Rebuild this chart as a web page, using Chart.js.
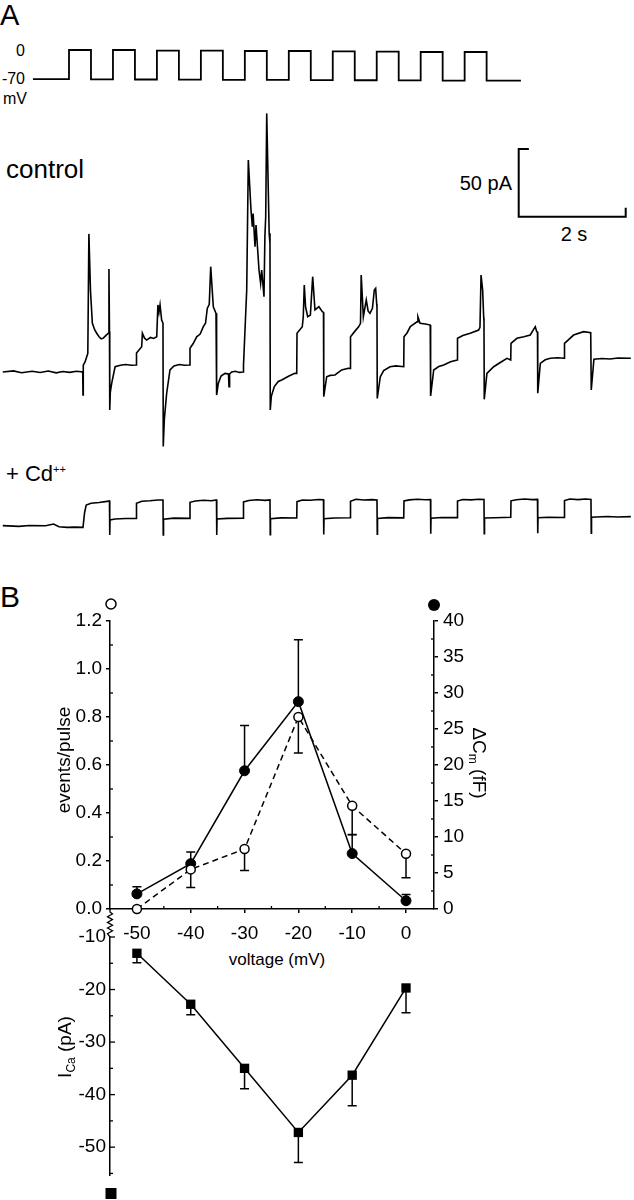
<!DOCTYPE html>
<html>
<head>
<meta charset="utf-8">
<title>Ca channel activity and exocytosis</title>
<script src="https://cdn.jsdelivr.net/npm/chart.js@4.4.1/dist/chart.umd.min.js"></script>
<style>
  body { margin: 0; background: #fff; }
  #fig { position: relative; width: 634px; height: 1200px; overflow: hidden;
         font-family: 'Liberation Sans', Arial, sans-serif; color: #000; }
  #fig canvas { position: absolute; left: 0; }
  .lbl { position: absolute; line-height: 1; white-space: nowrap; color: #000; }
  sup { font-size: 50%; vertical-align: 0.75em; line-height: 0; }
</style>
</head>
<body>
<div id="fig">
  <div class="lbl" style="left:0;top:1px;font-size:29px">A</div>
  <div class="lbl" style="right:609px;top:43px;font-size:16px">0</div>
  <div class="lbl" style="right:609px;top:71px;font-size:16px">-70</div>
  <div class="lbl" style="left:3px;top:91px;font-size:16px">mV</div>
  <div class="lbl" style="left:6px;top:156px;font-size:26px">control</div>
  <div class="lbl" style="right:122px;top:173px;font-size:20px">50 pA</div>
  <div class="lbl" style="left:524px;width:100px;text-align:center;top:224px;font-size:20px">2 s</div>
  <div class="lbl" style="left:6px;top:463px;font-size:22px">+ Cd<sup>++</sup></div>

  <div class="lbl" style="left:0;top:582px;font-size:30px">B</div>
  <div class="lbl" style="left:177px;width:200px;text-align:center;top:951px;font-size:17px">voltage (mV)</div>

  <canvas id="vTrace" width="634" height="70" style="top:30px"></canvas>
  <canvas id="ctlTrace" width="634" height="355" style="top:105px"></canvas>
  <canvas id="cdTrace" width="634" height="65" style="top:485px"></canvas>
  <canvas id="evChart" width="634" height="400" style="top:580px"></canvas>
  <canvas id="icaChart" width="634" height="295" style="top:905px"></canvas>
</div>

<script>
// ─────────────────────────────────────────────
// DATA  (panel A: s / mV / pA, panel B: mV)
// ─────────────────────────────────────────────
const vTimes  = [0.18, 1, 1.5, 2, 2.5, 3, 3.5, 4, 4.5, 5, 5.5, 6, 6.5, 7, 7.5, 8, 8.5, 9, 9.5, 10, 10.5, 11.28];
const vLevels = [-70.5, 0, -70.8, 0, -71.2, -1.6, -71.5, -1.6, -72, -2.4, -72.3, -2.4, -72.6, -3.2, -73, -4.1, -73.3, -4.8, -73.7, -4.8, -74, -74];

const ctlTimes = [
  -0.5, -0.3, -0.15, 0.05, 0.2, 0.35, 0.5, 0.62, 0.75, 0.88, 0.995,
  1.0, 1.005, 1.04, 1.09, 1.11, 1.14, 1.175, 1.22, 1.256, 1.3, 1.34, 1.38, 1.43, 1.473, 1.485, 1.495,
  1.5, 1.51, 1.536, 1.6, 1.7, 1.8, 1.9, 1.995,
  2.0, 2.097, 2.11, 2.15, 2.19, 2.26, 2.32, 2.378, 2.40, 2.42, 2.44, 2.47, 2.495,
  2.5, 2.52, 2.564, 2.626, 2.7, 2.8, 2.9, 2.995,
  3.0, 3.06, 3.125, 3.19, 3.249, 3.29, 3.323, 3.36, 3.387, 3.436, 3.486, 3.495,
  3.5, 3.529, 3.58, 3.654, 3.72, 3.729, 3.74, 3.779, 3.85, 3.92, 3.995,
  4.0, 4.06, 4.09, 4.14, 4.165, 4.18, 4.215, 4.234, 4.29, 4.32, 4.34, 4.383, 4.40, 4.415, 4.434, 4.48, 4.495,
  4.5, 4.52, 4.576, 4.65, 4.714, 4.85, 4.96, 4.995,
  5.0, 5.099, 5.117, 5.136, 5.16, 5.2, 5.25, 5.293, 5.336, 5.41, 5.473, 5.495,
  5.5, 5.555, 5.62, 5.71, 5.835, 5.96, 5.995,
  6.0, 6.08, 6.155, 6.187, 6.2, 6.24, 6.295, 6.33, 6.364, 6.41, 6.445, 6.47, 6.49, 6.495,
  6.5, 6.557, 6.62, 6.738, 6.85, 6.995,
  7.0, 7.06, 7.118, 7.243, 7.26, 7.3, 7.4, 7.49, 7.495,
  7.5, 7.555, 7.65, 7.742, 7.87, 7.995,
  8.0, 8.1, 8.238, 8.395, 8.42, 8.44, 8.47, 8.49, 8.495,
  8.5, 8.55, 8.676, 8.8, 8.925, 8.995,
  9.0, 9.11, 9.24, 9.36, 9.454, 9.48, 9.495,
  9.5, 9.548, 9.64, 9.735, 9.87, 9.995,
  10.0, 10.17, 10.357, 10.49, 10.495,
  10.5, 10.55, 10.7, 10.85, 11.0, 11.24
];
const ctlValues = [
  0, 0.8, -0.5, 0.6, -0.4, 0.7, -0.6, 0.4, -0.3, 0.5, 0,
  -17, 5, 7.6, 13.8, 102, 60, 36, 31, 28.6, 26, 24.5, 25, 27, 28.6, 76, 30,
  -28, -15, -8.4, 3.9, 5, 5.5, 5, 5.2,
  14, 18.7, 28.6, 25, 23.6, 25.5, 24.8, 26, 49.5, 44, 49.5, 38.4, 36,
  -55, -35, -15.7, 1.5, 4.5, 5.5, 5, 5.2,
  17.5, 21, 26, 28, 33.5, 36, 47, 50, 77.8, 48.2, 43.3, 40,
  -17, -8.4, -3, -1, -1.5, -10.8, -1.5, 0, 0.5, -0.3, 0,
  5, 60.6, 156.6, 119.6, 107.3, 117, 92.5, 108.6, 75.3, 65.5, 75.3, 55.6, 100, 114.7, 191, 102.4, 95,
  -28, -18, -10.8, -7, -5.9, -3, -1, -1,
  28.6, 33.5, 40.8, 64.3, 48, 40.8, 42, 70.4, 45.8, 48.2, 44.5, 44,
  -18.2, -3.5, -2.5, -2.2, 1.5, 2.7, 2.7,
  26, 30, 33.5, 36, 71.6, 40.8, 53.2, 45, 43.3, 47, 60.6, 61.8, 50, 48,
  -19.5, -3.5, 1, 3.9, 4.5, 3.9,
  26, 29, 33.5, 37, 40.8, 36, 35.5, 34.7, 34,
  -17.7, 1.5, 4, 5.2, 7.5, 8.9,
  24.9, 27, 28.6, 31, 33, 71.6, 60.6, 40, 38,
  -20.2, -1, 3.9, 7, 10.1, 8.9,
  21.2, 24.9, 26, 27.3, 33.5, 29.8, 29.5,
  -15.7, 6.4, 9, 10.1, 10.5, 10.1,
  21.2, 27.3, 29.8, 29, 29,
  -13.3, 9.4, 10, 9.6, 10.3, 10.1
];

const cdTimes = [
  -0.5, -0.2, 0.0, 0.3, 0.45, 0.55, 0.7, 0.85, 0.995,
  1.0, 1.03, 1.06, 1.15, 1.3, 1.45, 1.495, 1.5, 1.505, 1.6, 1.8, 1.995,
  2.0, 2.1, 2.25, 2.4, 2.495, 2.5, 2.505, 2.7, 2.995,
  3.0, 3.1, 3.25, 3.4, 3.495, 3.5, 3.505, 3.7, 3.995,
  4.0, 4.1, 4.25, 4.4, 4.495, 4.5, 4.505, 4.7, 4.995,
  5.0, 5.1, 5.25, 5.4, 5.495, 5.5, 5.505, 5.7, 5.995,
  6.0, 6.1, 6.25, 6.4, 6.495, 6.5, 6.505, 6.7, 6.995,
  7.0, 7.1, 7.25, 7.4, 7.495, 7.5, 7.505, 7.7, 7.995,
  8.0, 8.1, 8.25, 8.4, 8.495, 8.5, 8.505, 8.7, 8.995,
  9.0, 9.1, 9.25, 9.4, 9.495, 9.5, 9.505, 9.7, 9.995,
  10.0, 10.1, 10.25, 10.4, 10.495, 10.5, 10.505, 10.8, 11.0, 11.24
];
const cdValues = [
  0.3, -0.3, 0.4, 0.2, 1.5, -0.5, -1, -0.8, -1,
  -1, 10, 15.5, 16.8, 17.3, 18.2, 18.5, -6.6, 4.5, 5.2, 5.5, 5.6,
  16.8, 18.3, 18.6, 19.2, 19.2, -6.6, 5, 5.8, 5.6,
  17.5, 18.5, 19, 18.6, 19.2, -6.6, 5.2, 5.6, 5.8,
  17.8, 18.8, 19.4, 18.9, 19.3, -6.4, 5.4, 6, 5.9,
  18, 19.2, 19, 19.6, 19.4, -6.2, 5.3, 5.9, 6.1,
  18.3, 19.8, 19.2, 19.5, 19.2, -6, 5.6, 6.2, 6,
  18.5, 19.3, 19.8, 19.4, 19.5, -5.8, 5.8, 6.3, 6.2,
  18.4, 19.6, 19.3, 19.7, 19.6, -5.6, 5.9, 6.1, 6.4,
  18.6, 19.4, 19.9, 19.5, 19.7, -5.4, 6.1, 6.5, 6.3,
  18.8, 19.9, 19.5, 19.9, 19.6, -5.4, 6.5, 7, 6.6, 6.9
];

const voltages       = [-50, -40, -30, -20, -10, 0];
const eventsPerPulse = [0.00, 0.165, 0.25, 0.80, 0.43, 0.23];
const eventsSem      = [0, 0.075, 0.09, 0.15, 0.12, 0.10];
const deltaCm        = [2.1, 6.3, 19.2, 28.8, 7.7, 1.15];
const deltaCmSem     = [1.0, 1.6, 6.3, 8.6, 2.6, 0.85];
const iCa            = [-13.1, -22.8, -35.0, -47.2, -36.3, -19.7];
const iCaSem         = [1.8, 2.0, 3.9, 5.7, 5.8, 4.7];

const voltageTicks = [-50, -40, -30, -20, -10, 0];
const voltageMinor = [-45, -35, -25, -15, -5];
const eventsTicks  = [0, 0.2, 0.4, 0.6, 0.8, 1.0, 1.2];
const eventsMinor  = [0.1, 0.3, 0.5, 0.7, 0.9, 1.1];
const cmTicks      = [0, 5, 10, 15, 20, 25, 30, 35, 40];
const cmMinor      = [2.5, 7.5, 12.5, 17.5, 22.5, 27.5, 32.5, 37.5];
const iCaTicks     = [-10, -20, -30, -40, -50];
const iCaMinor     = [-15, -25, -35, -45, -55];


// ─────────────────────────────────────────────
// LAYOUT (pixel mapping of the recorded traces)
// ─────────────────────────────────────────────
const TRACE_PX_PER_S = 53.5, TRACE_T1_X = 83;      // current traces
const VSTEP_PX_PER_S = 43.96, VSTEP_T1_X = 69;     // schematic protocol
const PA_PX = 1.354;                               // px per pA
const SCALE_T0 = 9.144, SCALE_I0 = 114.7;          // scale bar corner
const SCALE_DT = 2, SCALE_DI = 50;

const FONT = "'Liberation Sans', Arial, sans-serif";
Chart.defaults.font.family = FONT;
Chart.defaults.font.size = 19;
Chart.defaults.color = '#000';

function pts(xs, ys) {
    return xs.map((x, i) => ({ x: x, y: ys[i] }));
}

function traceRange(t1x, pxPerS) {
    return [1 - t1x / pxPerS, 1 + (634 - t1x) / pxPerS];
}

function makeTrace(id, datasets, xr, yr) {
    new Chart(document.getElementById(id), {
        type: 'line',
        data: { datasets: datasets },
        options: {
            responsive: false,
            animation: false,
            devicePixelRatio: 1,
            events: [],
            layout: { padding: 0 },
            plugins: { legend: { display: false }, tooltip: { enabled: false } },
            scales: {
                x: { type: 'linear', display: false, min: xr[0], max: xr[1] },
                y: { type: 'linear', display: false, min: yr[0], max: yr[1] }
            }
        }
    });
}

function traceSet(data, width, extra) {
    return Object.assign({
        data: data, borderColor: '#000', borderWidth: width,
        pointRadius: 0, tension: 0, clip: false
    }, extra || {});
}


// ─────────────────────────────────────────────
// PANEL A
// ─────────────────────────────────────────────
makeTrace('vTrace',
    [traceSet(pts(vTimes, vLevels), 1.8, { stepped: true })],
    traceRange(VSTEP_T1_X, VSTEP_PX_PER_S),
    [-70 - (100 - 79) * 70 / 29, (79 - 30) * 70 / 29 - 70]);

const scaleBar = [
    { x: SCALE_T0 + 0.19, y: SCALE_I0 + SCALE_DI },
    { x: SCALE_T0, y: SCALE_I0 + SCALE_DI },
    { x: SCALE_T0, y: SCALE_I0 },
    { x: SCALE_T0 + SCALE_DT, y: SCALE_I0 },
    { x: SCALE_T0 + SCALE_DT, y: SCALE_I0 + 6.6 }
];

makeTrace('ctlTrace',
    [traceSet(pts(ctlTimes, ctlValues), 1.6), traceSet(scaleBar, 2)],
    traceRange(TRACE_T1_X, TRACE_PX_PER_S),
    [(372 - 460) / PA_PX, (372 - 105) / PA_PX]);

makeTrace('cdTrace',
    [traceSet(pts(cdTimes, cdValues), 1.6)],
    traceRange(TRACE_T1_X, TRACE_PX_PER_S),
    [(526 - 550) / PA_PX, (526 - 485) / PA_PX]);


// ─────────────────────────────────────────────
// PANEL B HELPERS
// ─────────────────────────────────────────────
const errorBars = {
    id: 'errorBars',
    beforeDatasetsDraw(chart) {
        const ctx = chart.ctx;
        chart.data.datasets.forEach((ds, i) => {
            if (!ds.errors) return;
            const meta = chart.getDatasetMeta(i);
            const ys = chart.scales[meta.yAxisID];
            ctx.save();
            ctx.strokeStyle = '#000';
            ctx.lineWidth = 1.5;
            ds.data.forEach((p, j) => {
                const e = ds.errors[j];
                if (!e) return;
                const x = meta.data[j].x;
                const y0 = ys.getPixelForValue(p.y);
                const y1 = ys.getPixelForValue(p.y + ds.errorSign * e);
                ctx.beginPath();
                ctx.moveTo(x, y0);
                ctx.lineTo(x, y1);
                ctx.moveTo(x - 4.5, y1);
                ctx.lineTo(x + 4.5, y1);
                ctx.stroke();
            });
            ctx.restore();
        });
    }
};

function tickMarks(list) {
    return {
        id: 'tickMarks',
        afterDraw(chart) {
            const ctx = chart.ctx;
            ctx.save();
            ctx.strokeStyle = '#000';
            ctx.lineWidth = 1.3;
            list.forEach(item => {
                const s = chart.scales[item.axis];
                item.values.forEach(v => {
                    const p = s.getPixelForValue(v);
                    ctx.beginPath();
                    if (s.isHorizontal()) {
                        ctx.moveTo(p, s.top);
                        ctx.lineTo(p, s.top - item.len);
                    } else if (s.position === 'left') {
                        ctx.moveTo(s.right, p);
                        ctx.lineTo(s.right + item.len, p);
                    } else {
                        ctx.moveTo(s.left, p);
                        ctx.lineTo(s.left - item.len, p);
                    }
                    ctx.stroke();
                });
            });
            ctx.restore();
        }
    };
}

// rotated axis titles with optional subscript part: [text, isSub]
function drawTitle(ctx, parts, cx, cy, angle, size) {
    const big = size + 'px ' + FONT, small = Math.round(size * 0.62) + 'px ' + FONT;
    let w = 0;
    parts.forEach(p => { ctx.font = p[1] ? small : big; w += ctx.measureText(p[0]).width; });
    ctx.save();
    ctx.translate(cx, cy);
    ctx.rotate(angle);
    ctx.fillStyle = '#000';
    ctx.textBaseline = 'alphabetic';
    let x = -w / 2;
    const base = size * 0.36;
    parts.forEach(p => {
        ctx.font = p[1] ? small : big;
        ctx.fillText(p[0], x, base + (p[1] ? size * 0.2 : 0));
        x += ctx.measureText(p[0]).width;
    });
    ctx.restore();
}

const axisGrid = { drawOnChartArea: false, drawTicks: true, tickLength: 4, color: '#000', lineWidth: 1.5 };
const axisBorder = { display: true, color: '#000', width: 1.5 };

function fixedTicks(values) {
    return scale => { scale.ticks = values.map(v => ({ value: v })); };
}


// ─────────────────────────────────────────────
// PANEL B: EVENTS / ΔCm
// ─────────────────────────────────────────────
const topKeys = {
    id: 'topKeys',
    afterDraw(chart) {
        const ctx = chart.ctx, ca = chart.chartArea;
        const mid = (ca.top + ca.bottom) / 2;
        drawTitle(ctx, [['events/pulse', false]], ca.left - 47, mid - 5, -Math.PI / 2, 19);
        drawTitle(ctx, [['ΔC', false], ['m', true], [' (fF)', false]], ca.right + 46, mid - 2, Math.PI / 2, 19);
        ctx.save();
        ctx.lineWidth = 1.5;
        ctx.strokeStyle = '#000';
        ctx.fillStyle = '#fff';
        ctx.beginPath();
        ctx.arc(ca.left + 1, ca.top - 17, 5, 0, Math.PI * 2);
        ctx.fill();
        ctx.stroke();
        ctx.fillStyle = '#000';
        ctx.beginPath();
        ctx.arc(ca.right, ca.top - 16, 6, 0, Math.PI * 2);
        ctx.fill();
        ctx.restore();
    }
};

new Chart(document.getElementById('evChart'), {
    type: 'line',
    data: {
        datasets: [{
            label: 'events/pulse',
            yAxisID: 'y',
            data: pts(voltages, eventsPerPulse),
            errors: eventsSem,
            errorSign: -1,
            borderColor: '#000',
            borderWidth: 1.5,
            borderDash: [6, 4],
            pointStyle: 'circle',
            pointRadius: 4.5,
            pointBorderWidth: 1.5,
            pointBackgroundColor: '#fff',
            pointBorderColor: '#000',
            clip: false
        }, {
            label: 'ΔCm',
            yAxisID: 'y1',
            data: pts(voltages, deltaCm),
            errors: deltaCmSem,
            errorSign: 1,
            borderColor: '#000',
            borderWidth: 1.5,
            pointStyle: 'circle',
            pointRadius: 5,
            pointBorderWidth: 1,
            pointBackgroundColor: '#000',
            pointBorderColor: '#000',
            clip: false
        }]
    },
    options: {
        responsive: false,
        animation: false,
        devicePixelRatio: 1,
        events: [],
        layout: { padding: { top: 41, left: 0, right: 0, bottom: 0 } },
        plugins: { legend: { display: false }, tooltip: { enabled: false } },
        scales: {
            x: {
                type: 'linear', min: -55, max: 5.2,
                afterBuildTicks: fixedTicks(voltageTicks),
                afterFit: s => { s.height = 71; },
                grid: axisGrid, border: axisBorder,
                ticks: { padding: 9, autoSkip: false, maxRotation: 0, callback: v => String(v) }
            },
            y: {
                position: 'left', min: 0, max: 1.2,
                afterBuildTicks: fixedTicks(eventsTicks),
                afterFit: s => { s.width = 110; },
                grid: axisGrid, border: axisBorder,
                ticks: { padding: 4, autoSkip: false, callback: v => v.toFixed(1) }
            },
            y1: {
                position: 'right', min: 0, max: 40,
                afterBuildTicks: fixedTicks(cmTicks),
                afterFit: s => { s.width = 200; },
                grid: axisGrid, border: axisBorder,
                ticks: { padding: 5, autoSkip: false, callback: v => String(v) }
            }
        }
    },
    plugins: [errorBars, topKeys, tickMarks([
        { axis: 'x', values: voltageMinor, len: 3 },
        { axis: 'y', values: eventsMinor, len: 3 },
        { axis: 'y1', values: cmMinor, len: 3 }
    ])]
});


// ─────────────────────────────────────────────
// PANEL B: I_Ca
// ─────────────────────────────────────────────
const lowerKeys = {
    id: 'lowerKeys',
    afterDraw(chart) {
        const ctx = chart.ctx, ca = chart.chartArea;
        drawTitle(ctx, [['I', false], ['Ca', true], [' (pA)', false]], ca.left - 46, ca.top + 110, -Math.PI / 2, 19);
        ctx.save();
        ctx.strokeStyle = '#000';
        ctx.lineWidth = 1.3;
        // axis break between the two plots
        const x = ca.left, y0 = ca.top - 28;
        ctx.beginPath();
        ctx.moveTo(x, y0);
        ctx.lineTo(x, y0 + 3);
        for (let k = 0; k < 8; k++) {
            ctx.lineTo(x + (k % 2 ? -2.5 : 2.5), y0 + 5 + k * 2.8);
        }
        ctx.lineTo(x, ca.top);
        ctx.stroke();
        ctx.fillStyle = '#000';
        ctx.fillRect(ca.left + 1 - 5.5, ca.bottom + 13, 11, 11);
        ctx.restore();
    }
};

new Chart(document.getElementById('icaChart'), {
    type: 'line',
    data: {
        datasets: [{
            label: 'ICa',
            data: pts(voltages, iCa),
            errors: iCaSem,
            errorSign: -1,
            borderColor: '#000',
            borderWidth: 1.5,
            pointStyle: 'rect',
            pointRadius: 6.6,
            pointBorderWidth: 0,
            pointBackgroundColor: '#000',
            pointBorderColor: '#000',
            clip: false
        }]
    },
    options: {
        responsive: false,
        animation: false,
        devicePixelRatio: 1,
        events: [],
        layout: { padding: { top: 32, bottom: 25, left: 0, right: 200 } },
        plugins: { legend: { display: false }, tooltip: { enabled: false } },
        scales: {
            x: { type: 'linear', display: false, min: -55, max: 5.2 },
            y: {
                position: 'left', min: -55.3, max: -10,
                afterBuildTicks: fixedTicks(iCaTicks),
                afterFit: s => { s.width = 110; },
                grid: { drawOnChartArea: false, drawTicks: false },
                border: axisBorder,
                ticks: { padding: 4, autoSkip: false, callback: v => String(v) }
            }
        }
    },
    plugins: [errorBars, lowerKeys, tickMarks([
        { axis: 'y', values: iCaTicks, len: 5 },
        { axis: 'y', values: iCaMinor, len: 3 }
    ])]
});
</script>
</body>
</html>
